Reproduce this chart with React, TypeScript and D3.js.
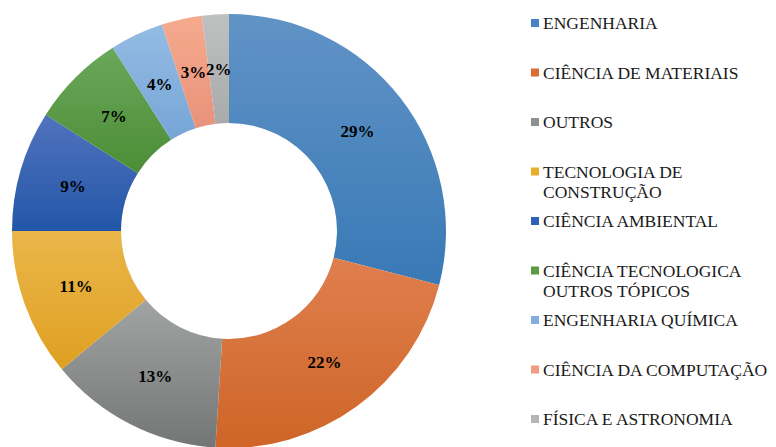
import * as d3 from "d3";

// categories + shares (%), clockwise from 12 o'clock
const CATEGORIES = [
  "ENGENHARIA",
  "CIÊNCIA DE MATERIAIS",
  "OUTROS",
  "TECNOLOGIA DE CONSTRUÇÃO",
  "CIÊNCIA AMBIENTAL",
  "CIÊNCIA TECNOLOGICA OUTROS TÓPICOS",
  "ENGENHARIA QUÍMICA",
  "CIÊNCIA DA COMPUTAÇÃO",
  "FÍSICA E ASTRONOMIA",
];
const VALUES = [29, 22, 13, 11, 9, 7, 4, 3, 2];
// legend text, broken the way the original wraps it
const LEGEND_LINES = [
  ["ENGENHARIA"],
  ["CIÊNCIA DE MATERIAIS"],
  ["OUTROS"],
  ["TECNOLOGIA DE", "CONSTRUÇÃO"],
  ["CIÊNCIA AMBIENTAL"],
  ["CIÊNCIA TECNOLOGICA", "OUTROS TÓPICOS"],
  ["ENGENHARIA QUÍMICA"],
  ["CIÊNCIA DA COMPUTAÇÃO"],
  ["FÍSICA E ASTRONOMIA"],
];

// [top, bottom, legend] per slice
const PALETTE: [string, string, string][] = [
  ["#6193c6", "#3979b6", "#4584c4"],
  ["#df7f4e", "#cf6527", "#d96d33"],
  ["#a2a3a3", "#747676", "#8e8f8f"],
  ["#eab64a", "#dfa021", "#e8ae2c"],
  ["#5173bd", "#2356a8", "#2e62b4"],
  ["#6aa85a", "#4c8d36", "#5a9c44"],
  ["#94bce4", "#76a5d6", "#82aedd"],
  ["#f5aa8e", "#e8927a", "#f19c82"],
  ["#bfc0c0", "#a9abab", "#b4b5b5"],
];

const W = 776, H = 447;
const cx = 229, cy = 231;
const rOut = 217, rIn = 108;

const CSS = `
  svg.donut text, svg.donut tspan {
    font-family: "Liberation Serif", "Times New Roman", Times, serif !important;
  }
  svg.donut text.lbl { font-weight: bold !important; font-size: 17px !important; }
  svg.donut text.leg { font-weight: normal !important; font-size: 17.5px !important; }
`;

export default function App() {
  const arcs = d3.pie<number>().value(d => d).sort(null)(VALUES);
  const arc = d3.arc<d3.PieArcDatum<number>>().innerRadius(rIn).outerRadius(rOut);
  const mid = d3.arc<d3.PieArcDatum<number>>()
    .innerRadius((rIn + rOut) / 2).outerRadius((rIn + rOut) / 2);
  const ly = d3.scalePoint<string>().domain(CATEGORIES).range([23, 419]);

  return (
    <svg className="donut" width={W} height={H}
      style={{ display: "block", position: "absolute", left: 0, top: 0 }}>
      <style>{CSS}</style>
      <defs>
        {PALETTE.map((p, i) => (
          <linearGradient key={i} id={`sl-${i}`} x1="0" y1="0" x2="0" y2="1">
            <stop offset="0%" stopColor={p[0]} />
            <stop offset="100%" stopColor={p[1]} />
          </linearGradient>
        ))}
      </defs>
      <rect width={W} height={H} fill="#fff" />
      <g transform={`translate(${cx},${cy})`}>
        {/* soft edge shading around the hole */}
        <circle r={rIn + 1.5} fill="none" stroke="#000" strokeOpacity={0.12} strokeWidth={3} />
        {arcs.map((d, i) => (
          <path key={i} d={arc(d) ?? ""} fill={`url(#sl-${i})`} />
        ))}
        {arcs.map((d, i) => {
          const [x, y] = mid.centroid(d);
          return (
            <text key={i} className="lbl" x={x} y={y + 6} textAnchor="middle" fill="#000">
              {`${d.data}%`}
            </text>
          );
        })}
      </g>
      {CATEGORIES.map((c, i) => {
        const y = ly(c)!;
        return (
          <g key={c}>
            <rect x={531} y={y - 4} width={8} height={8} fill={PALETTE[i][2]} />
            <text className="leg" x={543} y={y + 6} fill="#1a1a1a">
              {LEGEND_LINES[i].map((line, j) => (
                <tspan key={j} x={543} dy={j === 0 ? 0 : 20}>{line}</tspan>
              ))}
            </text>
          </g>
        );
      })}
    </svg>
  );
}
